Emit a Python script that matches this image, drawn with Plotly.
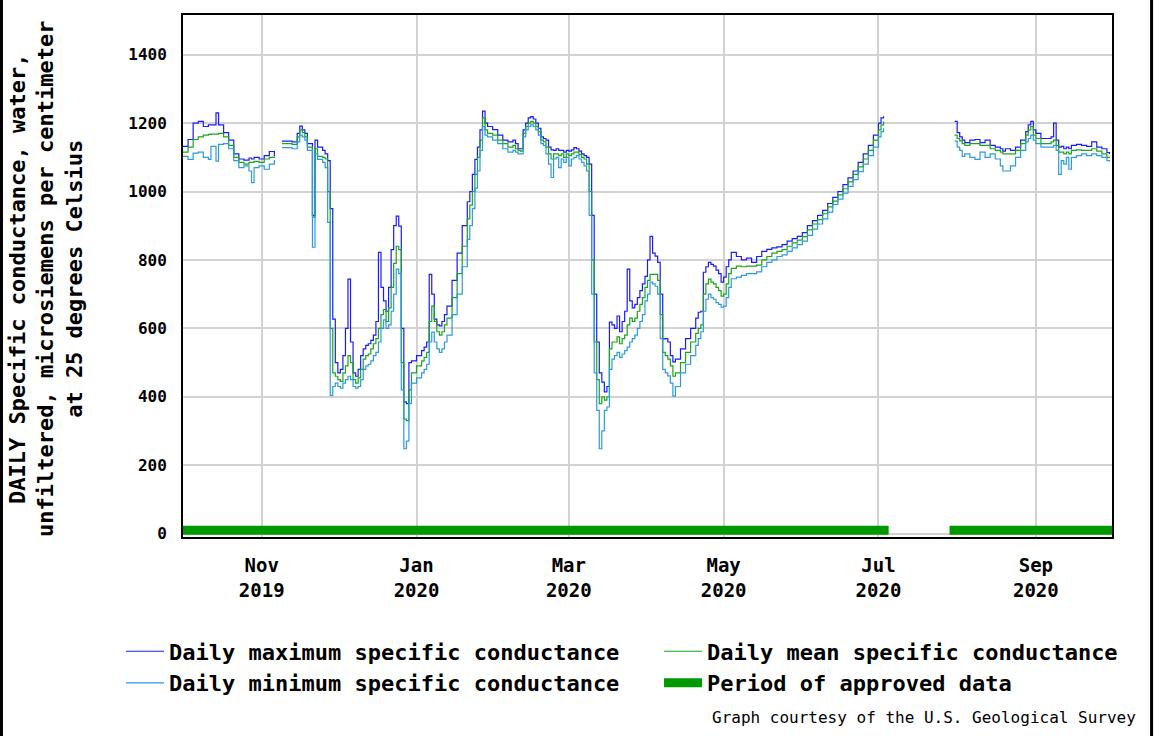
import pandas as pd
import plotly.graph_objects as go

# ---------------- data ----------------
water_year_start = "2019-10-01"

# day offsets from 2019-10-01 (None values mark missing record)
day_offset = [
    0, 2, 4, 6, 8, 10, 11, 13, 14, 16, 18, 20, 22, 24, 26, 27, 28, 30, 32, 34, 36, 37,
    39, 41, 43, 45, 46, 47, 48, 49, 51, 52, 53, 55, 56, 57, 58, 59, 60, 61, 62, 63, 64,
    65, 66, 67, 68, 69, 70, 71, 72, 73, 74, 75, 76, 77, 78, 79, 80, 81, 82, 83, 84, 85,
    86, 87, 88, 89, 90, 92, 94, 95, 96, 97, 98, 99, 100, 101, 102, 103, 104, 106, 108,
    110, 112, 113, 114, 115, 116, 117, 118, 119, 120, 122, 124, 126, 128, 130, 131, 132,
    133, 134, 135, 136, 137, 138, 139, 140, 141, 142, 143, 144, 145, 146, 147, 148, 149,
    150, 151, 152, 153, 154, 155, 156, 157, 158, 159, 160, 161, 162, 163, 164, 165, 166,
    167, 168, 169, 170, 171, 172, 173, 174, 175, 176, 177, 178, 179, 180, 181, 182, 183,
    184, 185, 186, 187, 188, 189, 190, 191, 192, 193, 194, 196, 198, 200, 202, 203, 204,
    205, 206, 207, 208, 209, 210, 211, 212, 213, 214, 215, 216, 218, 220, 222, 224, 226,
    228, 230, 232, 234, 236, 238, 240, 242, 244, 246, 248, 250, 252, 254, 256, 258, 260,
    262, 264, 266, 268, 270, 272, 274, 275, 276, 277,
    304, 305, 306, 307, 308, 310, 312, 314, 316, 318, 320, 322, 323, 324, 326, 328, 330,
    332, 333, 334, 335, 336, 338, 340, 342, 343, 344, 345, 346, 347, 348, 349, 350, 352,
    354, 356, 358, 360, 362, 364, 365,
]

daily_max = [
    1132, 1152, 1200, 1205, 1190, 1195, 1195, 1230, 1195, 1172, 1150, 1110, 1095, 1092, 1098, 1095, 1100, 1095, 1105, 1117, 1103, None,
    1147, 1147, 1145, 1170, 1191, 1180, 1170, 1140, 930, 1150, 1130, 1120, 1110, 1090, 950, 627, 500, 470, 480, 520, 600,
    744, 560, 470, 460, 480, 520, 540, 550, 555, 565, 580, 620, 822, 720, 680, 650, 720, 830, 900, 928, 899,
    600, 385, 380, 500, 505, 520, 535, 545, 560, 758, 700, 627, 610, 607, 620, 640, 665, 740, 820,
    900, 970, 1000, 1050, 1094, 1130, 1180, 1235, 1200, 1190, 1181, 1165, 1150, 1145, 1150, 1140, 1125,
    1125, 1180, 1200, 1215, 1219, 1212, 1200, 1185, 1160, 1155, 1150, 1130, 1122, 1120, 1125, 1120, 1120,
    1115, 1120, 1118, 1122, 1128, 1125, 1118, 1110, 1105, 1100, 1080, 930, 700, 560, 470, 443, 414,
    430, 618, 610, 600, 636, 590, 620, 650, 773, 680, 660, 670, 690, 710, 730, 752, 800,
    869, 820, 811, 793, 700, 569, 570, 560, 520, 502, 510, 540, 570, 600, 630, 647, 650,
    764, 780, 793, 787, 782, 770, 760, 735, 750, 780, 800, 822, 810, 800, 805, 793, 810,
    825, 831, 835, 838, 845, 855, 862, 869, 880, 900, 915, 930, 945, 965, 983, 1000, 1020,
    1040, 1060, 1085, 1110, 1135, 1165, 1200, 1215, 1220, None,
    1205, 1172, 1160, 1150, 1143, 1150, 1152, 1143, 1150, 1135, 1130, 1125, 1118, 1125, 1120, 1130, 1150,
    1175, 1195, 1205, 1180, 1170, 1155, 1155, 1160, 1200, 1150, 1130, 1132, 1125, 1130, 1125, 1135, 1138,
    1135, 1132, 1145, 1130, 1125, 1114, 1110,
]

daily_mean = [
    1115, 1130, 1152, 1160, 1165, 1167, 1168, 1168, 1170, 1160, 1135, 1100, 1085, 1080, 1085, 1085, 1088, 1085, 1095, 1100, 1098, None,
    1140, 1140, 1138, 1160, 1180, 1172, 1160, 1130, 925, 1125, 1103, 1100, 1095, 1000, 600, 470, 460, 450, 445, 470, 490,
    520, 500, 450, 440, 455, 480, 510, 520, 525, 540, 555, 570, 600, 640, 655, 620, 660, 720, 790, 840, 830,
    500, 335, 330, 420, 470, 490, 505, 515, 530, 620, 665, 620, 590, 580, 590, 610, 630, 690, 760,
    840, 920, 960, 1000, 1050, 1100, 1150, 1215, 1180, 1170, 1165, 1150, 1140, 1130, 1135, 1125, 1120,
    1118, 1170, 1190, 1200, 1205, 1200, 1190, 1175, 1150, 1145, 1130, 1110, 1095, 1110, 1110, 1105, 1110,
    1100, 1110, 1105, 1110, 1115, 1115, 1108, 1100, 1095, 1080, 1000, 800, 560, 450, 380, 400, 390,
    400, 540, 560, 560, 575, 555, 570, 580, 610, 630, 620, 630, 650, 670, 690, 720, 740,
    758, 758, 758, 740, 640, 530, 520, 510, 490, 460, 470, 500, 530, 560, 585, 600, 610,
    700, 730, 744, 735, 730, 720, 710, 694, 700, 730, 760, 775, 782, 780, 782, 782, 785,
    800, 810, 820, 825, 830, 840, 850, 858, 868, 888, 905, 918, 935, 955, 972, 990, 1008,
    1028, 1050, 1072, 1095, 1120, 1150, 1180, 1195, 1205, None,
    1165, 1155, 1148, 1140, 1135, 1140, 1140, 1135, 1135, 1125, 1120, 1115, 1110, 1110, 1110, 1120, 1140,
    1165, 1180, 1190, 1165, 1155, 1140, 1140, 1145, 1150, 1135, 1115, 1115, 1110, 1115, 1110, 1120, 1122,
    1120, 1120, 1125, 1118, 1110, 1100, 1098,
]

daily_min = [
    1103, 1094, 1112, 1115, 1100, 1094, 1132, 1089, 1138, 1140, 1125, 1090, 1070, 1075, 1060, 1026, 1070, 1075, 1065, 1080, 1092, None,
    1128, 1128, 1125, 1145, 1165, 1160, 1150, 1120, 837, 1110, 1094, 1085, 1070, 910, 404, 430, 440, 430, 425, 440, 450,
    460, 450, 430, 425, 430, 450, 480, 490, 495, 505, 520, 530, 560, 600, 625, 600, 610, 650, 700, 773, 760,
    420, 248, 270, 380, 440, 455, 470, 480, 495, 560, 589, 560, 540, 530, 540, 560, 580, 640, 700,
    780, 860, 900, 950, 1010, 1060, 1120, 1190, 1165, 1160, 1150, 1140, 1125, 1115, 1120, 1115, 1110,
    1110, 1160, 1180, 1190, 1195, 1190, 1180, 1165, 1140, 1135, 1110, 1080, 1041, 1095, 1100, 1070, 1095,
    1085, 1100, 1075, 1095, 1100, 1105, 1095, 1085, 1075, 1060, 930, 700, 470, 360, 248, 300, 360,
    370, 480, 510, 520, 530, 515, 525, 535, 545, 560, 570, 580, 600, 620, 640, 680, 700,
    735, 730, 723, 700, 570, 480, 470, 461, 440, 402, 430, 470, 495, 520, 550, 570, 590,
    650, 685, 700, 690, 685, 675, 670, 662, 665, 690, 720, 745, 750, 755, 760, 760, 765,
    780, 793, 800, 810, 815, 825, 835, 845, 855, 872, 890, 905, 920, 940, 962, 978, 995,
    1015, 1035, 1058, 1080, 1105, 1130, 1160, 1175, 1185, None,
    1147, 1130, 1120, 1103, 1110, 1100, 1094, 1115, 1100, 1110, 1095, 1075, 1060, 1060, 1075, 1100, 1120,
    1145, 1155, 1165, 1150, 1140, 1130, 1130, 1130, 1135, 1120, 1050, 1090, 1080, 1100, 1065, 1100, 1105,
    1110, 1105, 1110, 1105, 1100, 1090, 1088,
]

approved_start = ["2019-10-01", "2020-07-29"]
approved_end = ["2020-07-05", "2020-10-01"]

tick_dates = ["2019-11-01", "2020-01-01", "2020-03-01", "2020-05-01", "2020-07-01", "2020-09-01"]
tick_labels = ["Nov<br>2019", "Jan<br>2020", "Mar<br>2020", "May<br>2020", "Jul<br>2020", "Sep<br>2020"]
y_ticks = [0, 200, 400, 600, 800, 1000, 1200, 1400]

# ---------------- figure ----------------
dates = pd.Timestamp(water_year_start) + pd.to_timedelta(day_offset, unit="D")

FONT = "DejaVu Sans Mono"
fig = go.Figure()

fig.add_trace(go.Scatter(
    x=dates, y=daily_max, mode="lines", line=dict(color="#1a1aff", width=1.2, shape="hv"),
    name="Daily maximum specific conductance", connectgaps=False, legend="legend"))
fig.add_trace(go.Scatter(
    x=dates, y=daily_mean, mode="lines", line=dict(color="#1aa51a", width=1.2, shape="hv"),
    name="Daily mean specific conductance", connectgaps=False, legend="legend2"))
fig.add_trace(go.Scatter(
    x=dates, y=daily_min, mode="lines", line=dict(color="#2b9be0", width=1.2, shape="hv"),
    name="Daily minimum specific conductance", connectgaps=False, legend="legend"))

bar_x, bar_y = [], []
for s, e in zip(approved_start, approved_end):
    bar_x += [s, e, None]
    bar_y += [10, 10, None]
fig.add_trace(go.Scatter(
    x=bar_x, y=bar_y, mode="lines", line=dict(color="#009a00", width=9),
    name="Period of approved data", connectgaps=False, legend="legend2"))

legend_style = dict(
    orientation="v", xanchor="left", y=-0.179, yanchor="top",
    font=dict(family=FONT, size=22, color="black", weight="bold"),
    itemwidth=38, traceorder="normal", bgcolor="rgba(0,0,0,0)",
)

fig.update_layout(
    width=1154, height=736,
    margin=dict(l=183, r=42, t=15, b=199),
    paper_bgcolor="white", plot_bgcolor="white",
    font=dict(family=FONT, color="black"),
    showlegend=True,
    legend=dict(x=-0.0667, **legend_style),
    legend2=dict(x=0.5124, **legend_style),
    xaxis=dict(
        type="date", range=["2019-10-01", "2020-10-01"],
        tickmode="array", tickvals=tick_dates, ticktext=tick_labels,
        showgrid=True, gridcolor="#d2d2d2", gridwidth=2,
        showline=True, linecolor="black", linewidth=2, mirror=True,
        ticks="", ticklabelstandoff=10,
        tickfont=dict(family=FONT, size=19, color="black", weight="bold"),
        zeroline=False,
    ),
    yaxis=dict(
        range=[-10, 1516], tickmode="array", tickvals=y_ticks,
        showgrid=True, gridcolor="#d2d2d2", gridwidth=2,
        showline=True, linecolor="black", linewidth=2, mirror=True,
        ticks="", ticklabelstandoff=11,
        tickfont=dict(family=FONT, size=16, color="black", weight="bold"),
        zeroline=False,
    ),
    annotations=[
        dict(text="DAILY Specific conductance, water,<br>unfiltered, microsiemens per centimeter<br>at 25 degrees Celsius",
             xref="paper", yref="paper", x=-0.1475, y=0.496, xanchor="center", yanchor="middle",
             textangle=-90, showarrow=False,
             font=dict(family=FONT, size=22, color="black", weight="bold")),
        dict(text="Graph courtesy of the U.S. Geological Survey",
             xref="paper", yref="paper", x=1.028, y=-0.3467, xanchor="right", yanchor="middle",
             showarrow=False, font=dict(family=FONT, size=16, color="black")),
    ],
    shapes=[
        dict(type="line", xref="paper", yref="paper", x0=-0.1954, x1=-0.1954, y0=-0.385, y1=1.03,
             line=dict(color="black", width=3)),
        dict(type="line", xref="paper", yref="paper", x0=1.0426, x1=1.0426, y0=-0.385, y1=1.03,
             line=dict(color="black", width=3)),
    ],
)

# remove the page's default 8px body margin so the figure sits at the window origin
fig.write_html("out.html", config={"displayModeBar": False},
               post_script="document.body.style.margin='0px';")
